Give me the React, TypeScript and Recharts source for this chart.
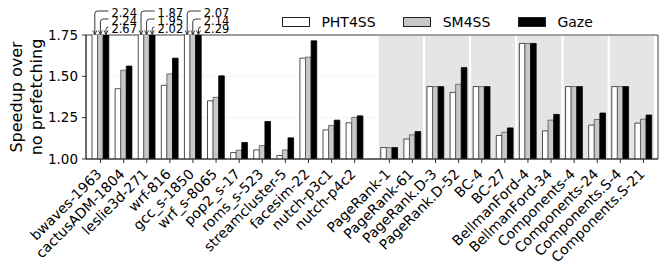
import React from "react";
import { BarChart, Bar, XAxis, YAxis, CartesianGrid, ReferenceArea, Legend } from "recharts";

const categories = [
  "bwaves-1963", "cactusADM-1804", "leslie3d-271", "wrf-816", "gcc_s-1850", "wrf_s-8065",
  "pop2_s-17", "roms_s-523", "streamcluster-5", "facesim-22", "nutch-p3c1", "nutch-p4c2",
  "PageRank-1", "PageRank-61", "PageRank.D-3", "PageRank.D-52", "BC-4", "BC-27",
  "BellmanFord-4", "BellmanFord-34", "Components-4", "Components-24", "Components.S-4", "Components.S-21",
];
const pht4ss = [
  2.24, 1.425, 1.87, 1.446, 2.07, 1.352, 1.039, 1.055, 1.021, 1.61, 1.176, 1.219,
  1.069, 1.121, 1.438, 1.403, 1.438, 1.142, 1.699, 1.17, 1.438, 1.205, 1.438, 1.217,
];
const sm4ss = [
  2.24, 1.537, 1.95, 1.515, 2.14, 1.373, 1.053, 1.081, 1.055, 1.616, 1.203, 1.252,
  1.069, 1.146, 1.438, 1.452, 1.438, 1.162, 1.699, 1.235, 1.438, 1.239, 1.438, 1.241,
];
const gaze = [
  2.67, 1.562, 2.02, 1.61, 2.29, 1.503, 1.1, 1.227, 1.128, 1.715, 1.235, 1.261,
  1.069, 1.166, 1.438, 1.553, 1.438, 1.188, 1.699, 1.27, 1.438, 1.278, 1.438, 1.266,
];
const yTicks = [1.0, 1.25, 1.5, 1.75];
const seriesNames = ["PHT4SS", "SM4SS", "Gaze"];
const fills = ["#ffffff", "#c8c8c8", "#000000"];

const W = 664;
const H = 267;
const TOP = 35;
const Y_MIN = 1.0;
const Y_MAX = 1.75;
const BAR_W = 5.6;
const SPEC_COUNT = 12; // first block of benchmarks, graph workloads after a gap
const X_MIN = -0.63;
const X_MAX = 24.13;

const pos = categories.map((_, i) => (i < SPEC_COUNT ? i : i + 0.5));
const data = categories.map((name, i) => ({
  name,
  pos: pos[i],
  pht4ss: pht4ss[i],
  sm4ss: sm4ss[i],
  gaze: gaze[i],
}));
// grey background blocks, one per pair of graph workloads
const shaded = pos.filter((_, i) => i >= SPEC_COUNT && (i - SPEC_COUNT) % 2 === 0);

const XTick = ({ x, y, payload }: any) => {
  const idx = pos.indexOf(payload.value);
  const tx = x + 2;
  const ty = y + 10;
  return (
    <text x={tx} y={ty} textAnchor="end" fontSize={14} fill="#000" transform={`rotate(-45 ${tx} ${ty})`}>
      {categories[idx]}
    </text>
  );
};

const YLabel = ({ viewBox }: any) => {
  const cy = viewBox && viewBox.height ? viewBox.y + viewBox.height / 2 : 97;
  return (
    <g fontSize={16} fill="#000">
      <text x={16} y={cy} textAnchor="middle" dominantBaseline="central" transform={`rotate(-90 16 ${cy})`}>
        Speedup over
      </text>
      <text x={36} y={cy} textAnchor="middle" dominantBaseline="central" transform={`rotate(-90 36 ${cy})`}>
        no prefetching
      </text>
    </g>
  );
};

// arrow + value text for bars cut off at the top of the axis
const Annot = (props: any) => {
  const { x, width, value, s } = props;
  if (value == null || value <= Y_MAX) return null;
  const cx = x + width / 2;
  const gc = cx + (1 - s) * width;
  const tx = gc + 11;
  const base = TOP - 18 + s * 8;
  const hy = base - 6;
  const r = Math.max(0, Math.min(3, tx - 3 - cx));
  return (
    <g>
      <path
        d={`M${tx - 3},${hy} L${cx + r},${hy} Q${cx},${hy} ${cx},${hy + r} L${cx},${TOP - 0.5}`}
        fill="none"
        stroke="#222"
        strokeWidth={0.9}
      />
      <path
        d={`M${cx - 2},${TOP - 4.5} L${cx},${TOP - 0.5} L${cx + 2},${TOP - 4.5}`}
        fill="none"
        stroke="#222"
        strokeWidth={0.9}
      />
      <text x={tx} y={base} fontSize={11.5} fill="#000">
        {Number(value).toFixed(2)}
      </text>
    </g>
  );
};

const LegendBox = () => (
  <div style={{ display: "flex", alignItems: "center", fontSize: 14, lineHeight: "14px", color: "#000" }}>
    {seriesNames.map((n, i) => (
      <div key={n} style={{ display: "flex", alignItems: "center", marginRight: 27.7 }}>
        <span
          style={{
            display: "inline-block",
            width: 28,
            height: 10,
            boxSizing: "border-box",
            border: "0.8px solid #222",
            background: fills[i],
            marginRight: 11.4,
          }}
        />
        <span>{n}</span>
      </div>
    ))}
  </div>
);

export default function App() {
  return (
    <div style={{ position: "absolute", left: 0, top: 0, width: W, height: H, fontFamily: "DejaVu Sans", background: "#fff" }}>
      <BarChart width={W} height={H} data={data} margin={{ top: TOP, right: 6, left: 26, bottom: 8 }} barGap={0}>
        <CartesianGrid vertical={false} stroke="#d8d8d8" strokeDasharray="1 3" />
        {shaded.map((p) => (
          <ReferenceArea
            key={p}
            x1={p - 0.5}
            x2={p + 1.5}
            y1={Y_MIN}
            y2={Y_MAX}
            fill="#e5e5e5"
            fillOpacity={1}
            stroke="#fff"
            strokeWidth={2}
          />
        ))}
        <XAxis
          type="number"
          dataKey="pos"
          domain={[X_MIN, X_MAX]}
          ticks={pos}
          interval={0}
          allowDataOverflow
          height={100}
          tick={<XTick />}
          tickSize={4}
          stroke="#333"
        />
        <YAxis
          domain={[Y_MIN, Y_MAX]}
          ticks={yTicks}
          allowDataOverflow
          width={60}
          tickSize={4}
          tickMargin={4}
          tickFormatter={(v: number) => v.toFixed(2)}
          tick={{ fontSize: 13.5, fill: "#000" }}
          stroke="#333"
          label={(p: any) => <YLabel {...p} />}
        />
        <Legend
          layout="horizontal"
          verticalAlign="middle"
          align="center"
          wrapperStyle={{ top: 14.7, left: 282, width: "auto", height: 14 }}
          content={() => <LegendBox />}
        />
        <Bar dataKey="pht4ss" fill={fills[0]} stroke="#222" strokeWidth={0.8} barSize={BAR_W} isAnimationActive={false}
          label={(p: any) => <Annot {...p} s={0} />} />
        <Bar dataKey="sm4ss" fill={fills[1]} stroke="#555" strokeWidth={0.8} barSize={BAR_W} isAnimationActive={false}
          label={(p: any) => <Annot {...p} s={1} />} />
        <Bar dataKey="gaze" fill={fills[2]} stroke="#000" strokeWidth={0.8} barSize={BAR_W} isAnimationActive={false}
          label={(p: any) => <Annot {...p} s={2} />} />
        <ReferenceArea x1={X_MIN} x2={X_MAX} y1={Y_MIN} y2={Y_MAX} fill="none" stroke="#444" strokeWidth={1} ifOverflow="visible" />
      </BarChart>
    </div>
  );
}
